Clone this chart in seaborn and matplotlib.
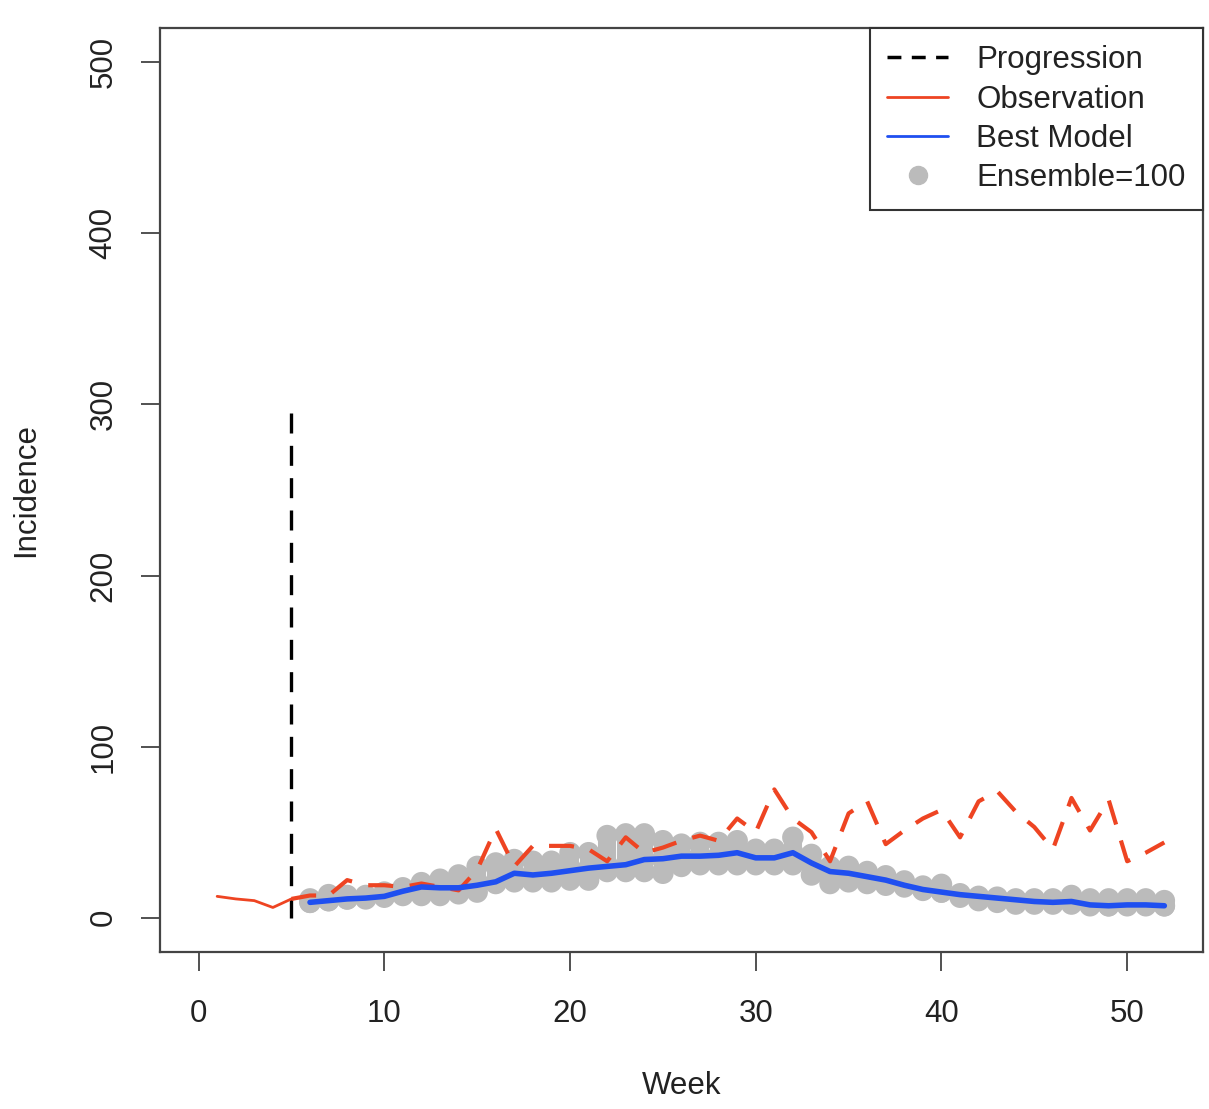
import numpy as np
import pandas as pd
import seaborn as sns
import matplotlib.pyplot as plt
from matplotlib.lines import Line2D

# weekly incidence
weeks = list(range(1, 53))
observed = [12.5, 11, 10, 6, 11, 13, 13, 22, 19, 19,
            18, 20, 18, 16, 28, 52, 30, 42, 42, 42,
            40, 33, 47, 38, 41, 45, 48, 45, 58, 50,
            75, 58, 50, 33, 61, 68, 43, 51, 58, 63,
            47, 68, 74, 62, 53, 40, 70, 51, 69, 33,
            38, 44]

model_weeks = list(range(6, 53))
best_model = [9, 10, 11, 11.5, 12.5, 15.5, 18, 17.5, 17.5, 19,
              21, 26, 25, 26, 27.5, 29, 30, 31, 34, 34.5,
              36, 36, 36.5, 38, 35, 35, 38, 32, 27, 26,
              24, 22, 19, 16.5, 15, 13.5, 12.5, 11.5, 10.5, 9.5,
              9, 9.5, 7.5, 7, 7.5, 7.5, 7]

# lowest / highest ensemble member per week
ens_low = [9, 10, 11, 11, 12, 13, 13, 13, 14, 15,
           20, 21, 21, 21, 22, 22, 27, 27, 27, 26,
           30, 31, 31, 31, 31, 31, 31, 25, 20, 21,
           20, 19, 18, 16, 15, 12, 10, 9, 8, 8,
           8, 8, 7, 7, 7, 7, 7]
ens_high = [11, 13.5, 13, 13, 15, 17.5, 20.5, 22.5, 25, 30,
            32, 34, 33, 33, 38, 38, 48, 49, 49, 45,
            43, 44, 44, 45, 40, 40, 47, 37, 30, 30,
            27, 24.5, 21.5, 18.5, 19.5, 14, 12, 12, 11, 11,
            11, 13, 11, 11, 11, 11, 10]

progression_week = 5
progression_top = 300

obs = pd.DataFrame({"week": weeks, "incidence": observed})
before = obs[obs.week <= progression_week]
after = obs[obs.week >= progression_week]
model = pd.DataFrame({"week": model_weeks, "incidence": best_model})
ens = pd.DataFrame({"week": model_weeks * 3,
                    "incidence": ens_low + best_model + ens_high})

sns.set_style("white")
plt.rcParams["font.family"] = ["Liberation Sans", "DejaVu Sans"]

red = "#ee4422"
blue = "#1f4ff0"
grey = "#bbbbbb"
fs = 22.5

fig = plt.figure(figsize=(12.09, 11.09), dpi=100)
ax = fig.add_axes([0.1323, 0.1416, 0.8627, 0.8332])

# ensemble cloud
ax.vlines(model_weeks, ens_low, ens_high, color=grey, lw=13, zorder=1)
sns.scatterplot(data=ens, x="week", y="incidence", ax=ax, color=grey,
                s=240, edgecolor="none", zorder=2, legend=False)

# progression marker
ax.vlines(progression_week, 0, progression_top, color="black", lw=2.4,
          linestyles=(0, (6, 3.7)), zorder=3)

# observation
sns.lineplot(data=before, x="week", y="incidence", ax=ax, color=red,
             lw=2, estimator=None, zorder=4)
sns.lineplot(data=after, x="week", y="incidence", ax=ax, color=red,
             lw=3, estimator=None, zorder=4)
ax.lines[-1].set_dashes((6, 4))

# best model
sns.lineplot(data=model, x="week", y="incidence", ax=ax, color=blue,
             lw=4, estimator=None, zorder=5)

ax.set_xlim(-2.08, 54.08)
ax.set_ylim(-20, 520)
ax.set_xticks([0, 10, 20, 30, 40, 50])
ax.set_yticks([0, 100, 200, 300, 400, 500])
ax.tick_params(axis="both", direction="out", length=14, width=1.2,
               labelsize=fs, color="#333333", labelcolor="#222222",
               bottom=True, left=True)
ax.tick_params(axis="x", pad=20)
ax.tick_params(axis="y", pad=16)
for lab in ax.get_yticklabels():
    lab.set_rotation(90)
    lab.set_va("center")
for s in ax.spines.values():
    s.set_color("#444444")
    s.set_linewidth(1.6)

ax.set_xlabel("Week", fontsize=fs, labelpad=30, color="#222222")
ax.set_ylabel("Incidence", fontsize=fs, labelpad=34, color="#222222")

handles = [
    Line2D([], [], color="black", lw=2.5, dashes=(4, 3)),
    Line2D([], [], color=red, lw=2),
    Line2D([], [], color=blue, lw=2),
    Line2D([], [], color=grey, lw=0, marker="o", markersize=13),
]
labels = ["Progression", "Observation", "Best Model", "Ensemble=100"]
leg = ax.legend(handles, labels, loc="upper right", bbox_to_anchor=(1, 1),
                borderaxespad=0, fontsize=fs, frameon=True, fancybox=False,
                framealpha=1, edgecolor="#333333", handlelength=1.95,
                handletextpad=0.9, labelspacing=0.3, borderpad=0.55)
leg.get_frame().set_linewidth(1.5)
for t in leg.get_texts():
    t.set_color("#222222")

fig.savefig("out.png", dpi=100)
